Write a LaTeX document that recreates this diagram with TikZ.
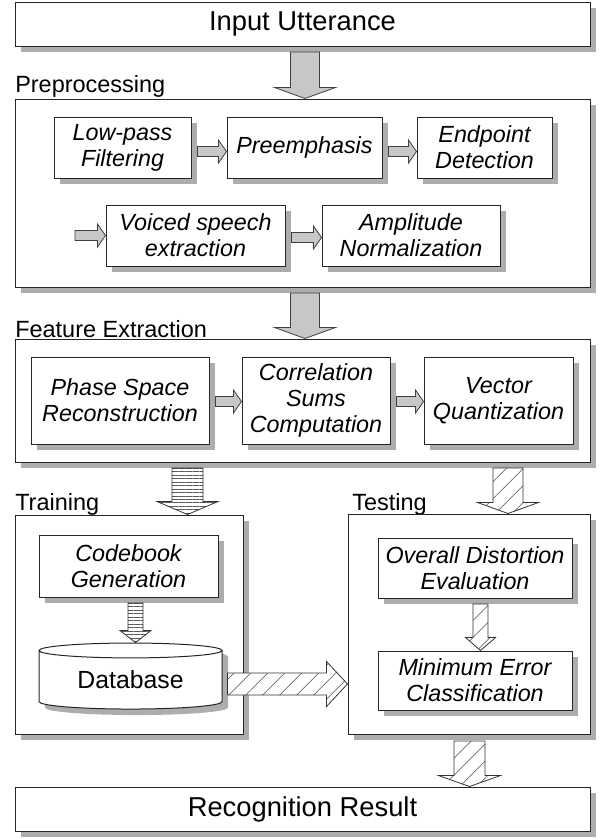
\documentclass[tikz,border=0pt]{standalone}
\usepackage{fontspec}
\setmainfont{Liberation Sans}
\usetikzlibrary{calc,shadows,shapes.geometric,patterns.meta}

% block arrow pointing down: style, from, to, shaft half width, head half width, head length
\newcommand{\blockdown}[6]{%
  \draw[#1] ($(#2)+(-#4,0)$) -- ($(#3)+(-#4,-#6)$) -- ($(#3)+(-#5,-#6)$) -- (#3)
    -- ($(#3)+(#5,-#6)$) -- ($(#3)+(#4,-#6)$) -- ($(#2)+(#4,0)$) -- cycle;}
% block arrow pointing right
\newcommand{\blockright}[6]{%
  \draw[#1] ($(#2)+(0,-#4)$) -- ($(#3)+(-#6,-#4)$) -- ($(#3)+(-#6,-#5)$) -- (#3)
    -- ($(#3)+(-#6,#5)$) -- ($(#3)+(-#6,#4)$) -- ($(#2)+(0,#4)$) -- cycle;}

\begin{document}
\begin{tikzpicture}[x=0.75pt,y=-0.75pt,
    wh/.style 2 args={minimum width=#1*0.75pt,minimum height=#2*0.75pt}]
		\tikzstyle{stage}=[draw=black!85, line width=0.75pt, fill=white, inner sep=0pt,
		  drop shadow={shadow xshift=4.5pt, shadow yshift=-4.5pt, fill=black!32, opacity=1}]
		\tikzstyle{block}=[stage, align=center, font=\fontsize{17.5}{19.5}\selectfont\itshape]
		\tikzstyle{title}=[stage, font=\fontsize{20.5}{24}\selectfont]
		\tikzstyle{group}=[anchor=base west, inner sep=0pt, font=\fontsize{17.6}{20}\selectfont]
		\tikzstyle{grayarr}=[draw=black!75, line width=0.6pt, fill=black!22]
		\tikzstyle{stripearr}=[draw=black!80, line width=0.6pt, preaction={fill=white},
		  pattern={Lines[angle=0,distance=2.6pt,line width=0.35pt]}, pattern color=black!65]
		\tikzstyle{hatcharr}=[draw=black!80, line width=0.6pt, preaction={fill=white},
		  pattern={Lines[angle=45,distance=9pt,line width=0.4pt]}, pattern color=black!70]
		
		\useasboundingbox (0,0) rectangle (599,839);
		
		% top and bottom
		\node (in) at (302.5,24) [title, wh={575}{44}] {Input Utterance};
		\node (rec) at (302.5,809) [title, wh={575}{44}] {Recognition Result};
		
		% preprocessing
		\node (prelbl) at (15,92) [group] {Preprocessing};
		\node (pre) at (302.5,193) [stage, wh={575}{188}] {};
		\node (lpf) at (122.5,147.5) [block, wh={137}{61}] {Low-pass\\Filtering};
		\node (pem) at (304.5,147.5) [block, wh={155}{61}] {Preemphasis};
		\node (epd) at (484.5,147.5) [block, wh={135}{61}] {Endpoint\\Detection};
		\node (vse) at (195.5,235.5) [block, wh={179}{61}] {Voiced speech\\extraction};
		\node (amn) at (411,235.5) [block, wh={178}{61}] {Amplitude\\Normalization};
		
		% feature extraction
		\node (felbl) at (15,337) [group] {Feature Extraction};
		\node (fe) at (302.5,400.5) [stage, wh={575}{123}] {};
		\node (psr) at (120,400.5) [block, wh={178}{87}] {Phase Space\\Reconstruction};
		\node (csc) at (316,400.5) [block, wh={148}{87}] {Correlation\\Sums\\Computation};
		\node (vq) at (498.5,400.5) [block, wh={149}{87}] {Vector\\Quantization};
		
		% training
		\node (trnlbl) at (15,510) [group] {Training};
		\node (trn) at (129,624.5) [stage, wh={228}{219}] {};
		\node (cbg) at (128.5,566) [block, wh={179}{62}] {Codebook\\Generation};
		\node (db) at (130.5,680) [stage, cylinder, shape border rotate=90, aspect=0.14,
		  wh={183}{66}, font=\fontsize{18.6}{20}\selectfont] {Database};
		
		% testing
		\node (tstlbl) at (352,510) [group] {Testing};
		\node (tst) at (469,624) [stage, wh={242}{220}] {};
		\node (ode) at (475,568) [block, wh={194}{60}] {Overall Distortion\\Evaluation};
		\node (mec) at (475,680.5) [block, wh={194}{59}] {Minimum Error\\Classification};
		
		% gray arrows
		\coordinate (a1s) at (305,52);
		\coordinate (a1e) at (a1s |- pre.north);
		\blockdown{grayarr}{a1s}{a1e}{14.5}{30.5}{11}
		\coordinate (a2s) at (305,293);
		\coordinate (a2e) at (a2s |- fe.north);
		\blockdown{grayarr}{a2s}{a2e}{14.5}{30.5}{11}
		
		\coordinate (h1s) at ($(lpf.east)+(6,4)$);
		\coordinate (h1e) at (h1s -| pem.west);
		\blockright{grayarr}{h1s}{h1e}{5}{11.5}{8}
		\coordinate (h2s) at ($(pem.east)+(6,4)$);
		\coordinate (h2e) at (h2s -| epd.west);
		\blockright{grayarr}{h2s}{h2e}{5}{11.5}{8}
		\coordinate (h3s) at (75,235.5);
		\coordinate (h3e) at (h3s -| vse.west);
		\blockright{grayarr}{h3s}{h3e}{5}{11.5}{8}
		\coordinate (h4s) at ($(vse.east)+(6,2)$);
		\coordinate (h4e) at (h4s -| amn.west);
		\blockright{grayarr}{h4s}{h4e}{5}{11.5}{8}
		\coordinate (h5s) at ($(psr.east)+(6,1)$);
		\coordinate (h5e) at (h5s -| csc.west);
		\blockright{grayarr}{h5s}{h5e}{5}{11.5}{8}
		\coordinate (h6s) at ($(csc.east)+(6,1)$);
		\coordinate (h6e) at (h6s -| vq.west);
		\blockright{grayarr}{h6s}{h6e}{5}{11.5}{8}
		
		% striped arrows
		\coordinate (b1s) at (187.5,468);
		\coordinate (b1e) at (b1s |- trn.north);
		\blockdown{stripearr}{b1s}{b1e}{15.5}{30.5}{13}
		\coordinate (b2s) at (135.5,603);
		\coordinate (b2e) at (b2s |- db.north);
		\blockdown{stripearr}{b2s}{b2e}{7.5}{15.5}{12}
		
		% hatched arrows
		\coordinate (c1s) at (508,468);
		\coordinate (c1e) at (c1s |- tst.north);
		\blockdown{hatcharr}{c1s}{c1e}{15}{30.5}{11}
		\coordinate (c2s) at (480.5,604);
		\coordinate (c2e) at (c2s |- mec.north);
		\blockdown{hatcharr}{c2s}{c2e}{7.5}{15}{13}
		\coordinate (c3s) at (469.5,741);
		\coordinate (c3e) at (c3s |- rec.north);
		\blockdown{hatcharr}{c3s}{c3e}{15.5}{31}{11}
		\coordinate (c4s) at ($(db.east)+(5,4)$);
		\coordinate (c4e) at (c4s -| tst.west);
		\blockright{hatcharr}{c4s}{c4e}{11}{22.5}{21}
		
		\end{tikzpicture}
\end{document}
